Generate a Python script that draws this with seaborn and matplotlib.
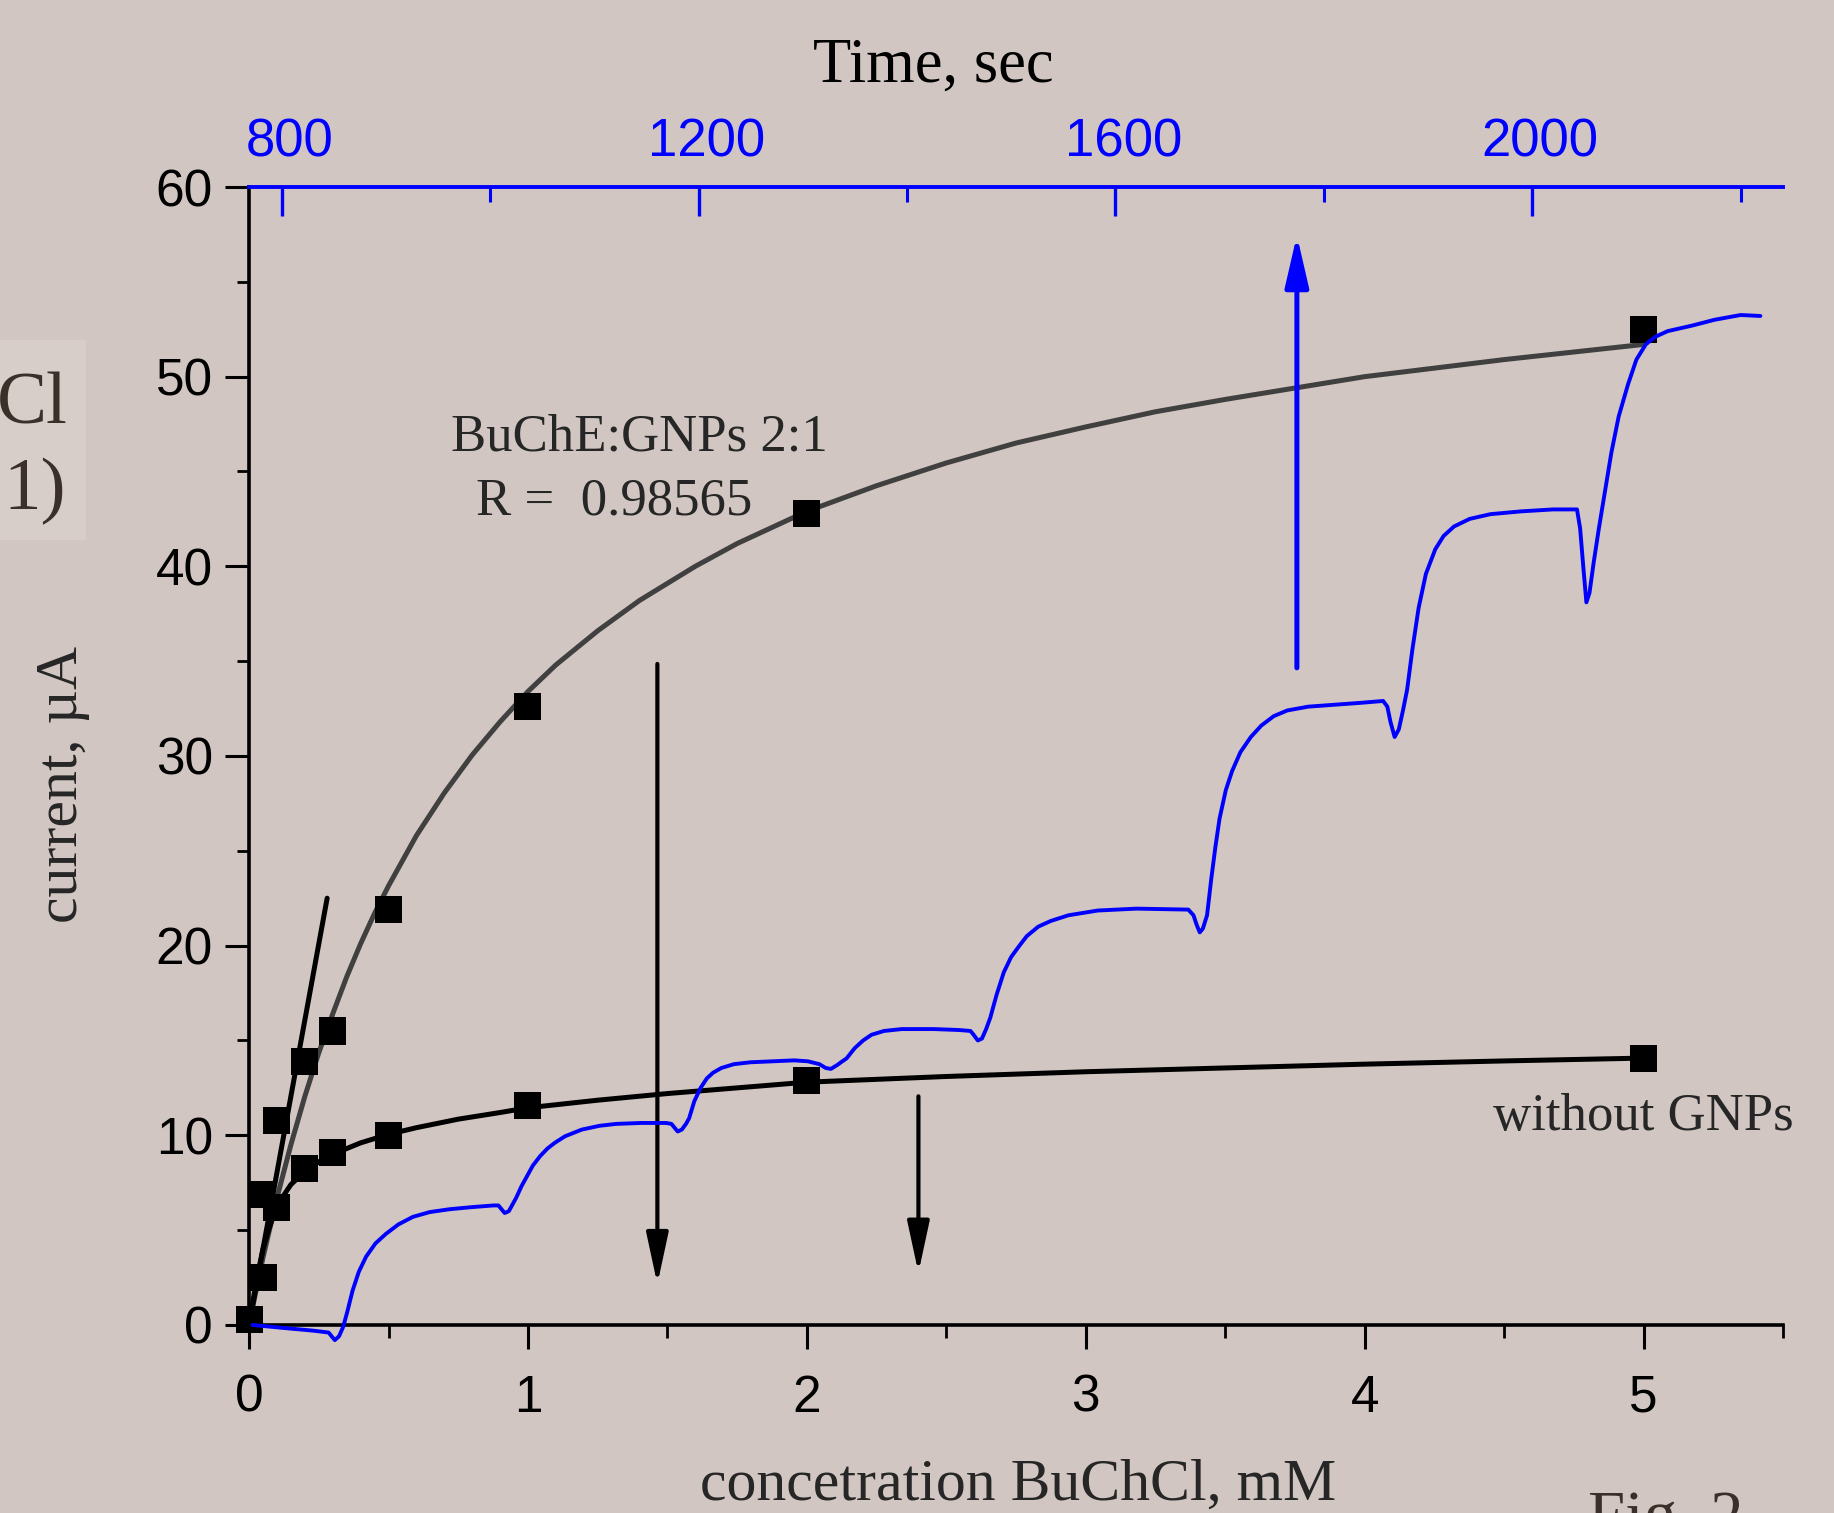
# -*- coding: utf-8 -*-
import matplotlib
matplotlib.use("Agg")
import matplotlib.pyplot as plt
from matplotlib.patches import Rectangle
from matplotlib.ticker import MultipleLocator
from matplotlib.transforms import ScaledTranslation
import seaborn as sns

# Pontos experimentais (concentração em mM, corrente em uA)
conc_gnps = [0.0, 0.05, 0.1, 0.2, 0.3, 0.5, 1.0, 2.0, 5.0]
curr_gnps = [0.3, 2.5, 10.8, 13.9, 15.5, 21.9, 32.6, 42.8, 52.5]
conc_plain = [0.045, 0.1, 0.2, 0.3, 0.5, 1.0, 2.0, 5.0]
curr_plain = [6.9, 6.2, 8.25, 9.1, 10.0, 11.55, 12.9, 14.07]

# Curvas de ajuste
fit_gnps_x = [0.0, 0.02, 0.05, 0.1, 0.15, 0.2, 0.25, 0.3, 0.35, 0.4, 0.45, 0.5,
              0.6, 0.7, 0.8, 0.9, 1.0, 1.1, 1.25, 1.4, 1.6, 1.75, 2.0, 2.25, 2.5,
              2.75, 3.0, 3.25, 3.5, 3.75, 4.0, 4.25, 4.5, 4.75, 5.0]
fit_gnps_y = [0.0, 1.45, 3.55, 6.7, 9.5, 12.05, 14.35, 16.4, 18.35, 20.1, 21.7,
              23.15, 25.8, 28.05, 30.05, 31.8, 33.4, 34.8, 36.6, 38.2, 40.0, 41.2,
              42.9, 44.25, 45.45, 46.5, 47.35, 48.15, 48.8, 49.4, 50.0, 50.45,
              50.9, 51.3, 51.7]
fit_plain_x = [0.0, 0.02, 0.03, 0.05, 0.07, 0.1, 0.15, 0.2, 0.25, 0.3, 0.4, 0.5,
               0.6, 0.75, 0.9, 1.0, 1.25, 1.5, 1.75, 2.0, 2.5, 3.0, 3.5, 4.0,
               4.5, 5.0]
fit_plain_y = [0.0, 1.8, 2.6, 4.0, 5.0, 6.3, 7.4, 8.1, 8.6, 9.0, 9.6, 10.05,
               10.4, 10.85, 11.2, 11.45, 11.85, 12.2, 12.5, 12.8, 13.1, 13.35,
               13.55, 13.75, 13.92, 14.07]
linear_x = [0.0, 0.28]
linear_y = [0.0, 22.5]

# Registro amperométrico (tempo em s, corrente em uA)
time_s = [772, 800, 830, 845, 848, 851, 855, 859, 863, 868, 874, 881, 890, 900,
          912, 926, 942, 961, 980, 1003, 1008, 1011, 1014, 1018, 1022,
          1025, 1030, 1036, 1041, 1048, 1055, 1062, 1072, 1088, 1105, 1121, 1145,
          1169, 1174, 1177, 1180, 1184, 1188,
          1191, 1196, 1202, 1208, 1214, 1222, 1234, 1250, 1270, 1292, 1305, 1316,
          1322, 1327, 1333, 1338,
          1342, 1350, 1358, 1366, 1378, 1395, 1426, 1450, 1461, 1464, 1468, 1472,
          1476,
          1480, 1486, 1493, 1500, 1508, 1515, 1526, 1538, 1555, 1583, 1620, 1670,
          1675, 1678, 1681, 1684, 1688,
          1692, 1696, 1700, 1706, 1712, 1720, 1730, 1740, 1752, 1765, 1785, 1810,
          1835, 1857, 1861, 1864, 1868, 1872, 1876,
          1880, 1885, 1891, 1898, 1907, 1915, 1925, 1940, 1960, 1990, 2020, 2043,
          2046, 2049, 2052, 2055, 2059, 2064, 2070, 2076, 2083, 2092, 2100, 2109,
          2118, 2130, 2154, 2175, 2200, 2219]
current_ua = [0.0, -0.15, -0.3, -0.4, -0.6, -0.8, -0.6, -0.1, 0.7, 1.8, 2.8, 3.6,
              4.3, 4.8, 5.3, 5.7, 5.95, 6.1, 6.2, 6.3, 6.3, 6.1, 5.9, 6.0, 6.4,
              6.7, 7.3, 7.9, 8.4, 8.9, 9.3, 9.6, 9.95, 10.3, 10.5, 10.6, 10.65,
              10.65, 10.6, 10.4, 10.2, 10.3, 10.6,
              10.9, 11.8, 12.5, 13.0, 13.3, 13.55, 13.75, 13.85, 13.9, 13.95, 13.9,
              13.75, 13.55, 13.5, 13.7, 13.9,
              14.05, 14.6, 15.0, 15.3, 15.5, 15.6, 15.6, 15.55, 15.5, 15.3, 15.0,
              15.1, 15.6,
              16.2, 17.4, 18.6, 19.4, 20.0, 20.5, 21.0, 21.3, 21.6, 21.85, 21.95,
              21.9, 21.6, 21.1, 20.7, 20.9, 21.6,
              23.5, 25.2, 26.7, 28.2, 29.2, 30.2, 31.0, 31.6, 32.1, 32.4, 32.6, 32.7,
              32.8, 32.9, 32.6, 31.8, 31.0, 31.4, 32.4,
              33.5, 35.6, 37.8, 39.6, 40.9, 41.6, 42.1, 42.5, 42.75, 42.9, 43.0, 43.0,
              42.0, 40.0, 38.1, 38.6, 40.2, 42.0, 44.0, 46.0, 47.9, 49.6, 50.9, 51.7,
              52.1, 52.4, 52.7, 53.0, 53.25, 53.2]

bg = "#d1c6c1"
dark = "#3b3029"

sns.set_theme(style="ticks")
plt.rcParams['font.family'] = ['Liberation Sans', 'DejaVu Sans']
serif = ['Liberation Serif', 'DejaVu Serif']

fig = plt.figure(figsize=(18.34, 15.13), dpi=100, facecolor=bg)
ax = fig.add_axes([0.1358, 0.1243, 0.8364, 0.7521])
ax.set_facecolor(bg)

# Ajustes
sns.lineplot(x=fit_gnps_x, y=fit_gnps_y, ax=ax, color="#404040", lw=3.6,
             sort=False, estimator=None)
sns.lineplot(x=fit_plain_x, y=fit_plain_y, ax=ax, color="black", lw=3.6,
             sort=False, estimator=None)
sns.lineplot(x=linear_x, y=linear_y, ax=ax, color="black", lw=3.6,
             sort=False, estimator=None, solid_capstyle='round')

# Pontos
sns.scatterplot(x=conc_gnps, y=curr_gnps, ax=ax, marker='s', s=380, color='black',
                edgecolor='none', clip_on=False, zorder=5)
sns.scatterplot(x=conc_plain, y=curr_plain, ax=ax, marker='s', s=380, color='black',
                edgecolor='none', clip_on=False, zorder=5)

ax.set_xlim(0, 5.5)
ax.set_ylim(0, 60)
ax.xaxis.set_major_locator(MultipleLocator(1))
ax.xaxis.set_minor_locator(MultipleLocator(0.5))
ax.yaxis.set_major_locator(MultipleLocator(10))
ax.yaxis.set_minor_locator(MultipleLocator(5))

for s in ['top', 'right']:
    ax.spines[s].set_visible(False)
for s in ['left', 'bottom']:
    ax.spines[s].set_linewidth(2.6)
    ax.spines[s].set_color('black')

ax.tick_params(axis='both', which='major', direction='out', length=17, width=2.2,
               colors='black', labelsize=37)
ax.tick_params(axis='both', which='minor', direction='out', length=9, width=2.0,
               colors='black')
ax.tick_params(axis='x', which='major', pad=18)
ax.tick_params(axis='y', which='major', pad=9)

ax.set_xlabel("concetration BuChCl, mM", fontsize=43, family=serif)
ax.set_ylabel("current, µA", fontsize=43, family=serif)
ax.xaxis.set_label_coords(0.5013, -0.118)
ax.yaxis.set_label_coords(-0.104, 0.475)

# Eixo superior: tempo
ax2 = ax.twiny()
sns.lineplot(x=time_s, y=current_ua, ax=ax2, color='blue', lw=2.8,
             sort=False, estimator=None, clip_on=False)
ax2.set_xlim(768.7, 2240.7)
ax2.set_ylim(0, 60)
ax2.xaxis.set_major_locator(MultipleLocator(400))
ax2.xaxis.set_minor_locator(MultipleLocator(200))
for s in ['bottom', 'left', 'right']:
    ax2.spines[s].set_visible(False)
ax2.spines['top'].set_color('blue')
ax2.spines['top'].set_linewidth(2.8)
ax2.tick_params(axis='x', which='major', direction='in', length=21, width=2.4,
                colors='blue', labelsize=38, pad=14)
ax2.tick_params(axis='x', which='minor', direction='in', length=11, width=2.2,
                colors='blue')
shift = ScaledTranslation(0.08, 0, fig.dpi_scale_trans)
for lbl in ax2.get_xticklabels():
    lbl.set_transform(lbl.get_transform() + shift)
ax2.set_xlabel("Time, sec", fontsize=45, family=serif, color='black')
ax2.xaxis.set_label_coords(0.446, 1.093)
ax2.set_ylabel("")

# Setas
ax.annotate('', xy=(1.464, 2.0), xytext=(1.464, 35.0),
            arrowprops=dict(arrowstyle='-|>,head_length=1.3,head_width=0.28',
                            lw=3.0, color='black', mutation_scale=24))
ax.annotate('', xy=(2.40, 2.6), xytext=(2.40, 12.2),
            arrowprops=dict(arrowstyle='-|>,head_length=1.3,head_width=0.28',
                            lw=3.0, color='black', mutation_scale=24))
ax.annotate('', xy=(3.757, 57.6), xytext=(3.757, 34.5),
            arrowprops=dict(arrowstyle='-|>,head_length=1.3,head_width=0.3',
                            lw=3.6, color='blue', mutation_scale=24,
                            capstyle='round'))

# Textos
ax.text(1.40, 46.8, "BuChE:GNPs 2:1", fontsize=38, family=serif,
        ha='center', va='center')
ax.text(1.31, 43.4, "R =  0.98565", fontsize=38, family=serif,
        ha='center', va='center')
ax.text(5.537, 10.95, "without GNPs", fontsize=38, family=serif,
        ha='right', va='center')

# Restos do slide nas bordas
fig.patches.append(Rectangle((0, (1513 - 540) / 1513), 86 / 1834, 200 / 1513,
                             transform=fig.transFigure, facecolor="#d7cec9",
                             edgecolor='none', zorder=0))
fig.text(68 / 1834, 1 - 423 / 1513, "Cl", fontsize=54, family=serif, color=dark,
         ha='right', va='baseline')
fig.text(66 / 1834, 1 - 509 / 1513, "1)", fontsize=54, family=serif, color=dark,
         ha='right', va='baseline')
fig.text(1588 / 1834, 1 - 1490 / 1513, "Fig. 2", fontsize=48, family=serif,
         color=dark, ha='left', va='top')

fig.savefig("out.png", dpi=100, facecolor=bg)
